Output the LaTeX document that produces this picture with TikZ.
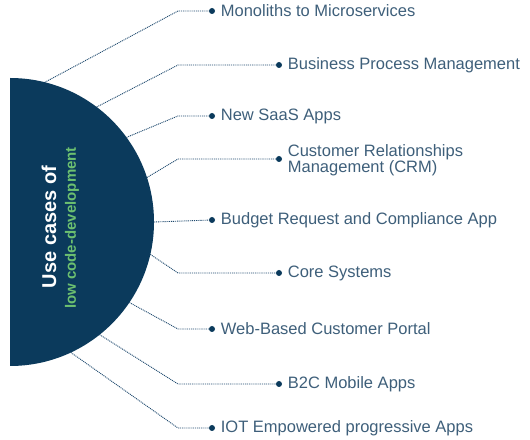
\documentclass[tikz,border=0pt]{standalone}
\usepackage{fontspec}
\setmainfont{Liberation Sans}
\usepackage{tikz}
\usetikzlibrary{positioning, calc}
\definecolor{UC_Navy}{HTML}{0B3A5C}
\definecolor{UC_Slate}{HTML}{3E5F7A}
\definecolor{UC_Green}{HTML}{6CC070}
\definecolor{UC_Line}{HTML}{1F4A6E}

\begin{document}
\begin{tikzpicture}[
  x=1pt, y=1pt,
  every node/.style={font=\fontsize{16.5}{17.5}\selectfont, text=UC_Slate},
  item/.style={anchor=west, inner sep=0pt, align=left},
  dot/.style={circle, fill=UC_Navy, inner sep=0pt, minimum size=6pt},
  link/.style={UC_Line, line width=0.9pt, dash pattern=on 1pt off 0.9pt}
]
  \useasboundingbox (0,0) rectangle (530,439);

  % Half disc
  \coordinate (c) at (10,217);
  \fill[UC_Navy] (10,361) arc[start angle=90, end angle=-90, radius=144] -- cycle;
  \node[rotate=90, text=white, font=\bfseries\fontsize{20}{22}\selectfont]
    (title) at (49,212) {Use cases of};
  \node[rotate=90, text=UC_Green, font=\bfseries\fontsize{15}{17}\selectfont]
    (subtitle) at (72,211) {low code-development};

  % Start points on the rim
  \coordinate (s1) at ($(c)+(76:144)$);
  \coordinate (s2) at ($(c)+(53:144)$);
  \coordinate (s3) at ($(c)+(36:144)$);
  \coordinate (s4) at ($(c)+(18:144)$);
  \coordinate (s5) at ($(c)+(0:144)$);
  \coordinate (s6) at ($(c)+(-13:144)$);
  \coordinate (s7) at ($(c)+(-34:144)$);
  \coordinate (s8) at ($(c)+(-51.5:144)$);
  \coordinate (s9) at ($(c)+(-65:144)$);

  % Bend points
  \coordinate (b1) at (178,428);
  \coordinate (b2) at (178,374);
  \coordinate (b3) at (178,323);
  \coordinate (b4) at (178,280);
  \coordinate (b6) at (178,166);
  \coordinate (b7) at (178,110);
  \coordinate (b8) at (178,55);
  \coordinate (b9) at (178,11);

  % Dots
  \node[dot] (d1) at (212,428) {};
  \node[dot] (d2) at (279,374) {};
  \node[dot] (d3) at (212,323) {};
  \node[dot] (d4) at (279,280) {};
  \node[dot] (d5) at (212,219) {};
  \node[dot] (d6) at (279,166) {};
  \node[dot] (d7) at (212,110) {};
  \node[dot] (d8) at (279,55) {};
  \node[dot] (d9) at (212,11) {};

  % Labels
  \node[item, right=5.5pt of d1] (l1) {Monoliths to Microservices};
  \node[item, right=5.5pt of d2] (l2) {Business Process Management};
  \node[item, right=5.5pt of d3] (l3) {New SaaS Apps};
  \node[item, right=5.5pt of d4, yshift=-1pt] (l4) {Customer Relationships\\[-1pt]Management (CRM)};
  \node[item, right=5.5pt of d5] (l5) {Budget Request and Compliance App};
  \node[item, right=5.5pt of d6] (l6) {Core Systems};
  \node[item, right=5.5pt of d7] (l7) {Web-Based Customer Portal};
  \node[item, right=5.5pt of d8] (l8) {B2C Mobile Apps};
  \node[item, right=5.5pt of d9] (l9) {IOT Empowered progressive Apps};

  % Connectors
  \draw[link] (s1) -- (b1) -- (d1);
  \draw[link] (s2) -- (b2) -- (d2);
  \draw[link] (s3) -- (b3) -- (d3);
  \draw[link] (s4) -- (b4) -- (d4);
  \draw[link] (s5) -- (d5);
  \draw[link] (s6) -- (b6) -- (d6);
  \draw[link] (s7) -- (b7) -- (d7);
  \draw[link] (s8) -- (b8) -- (d8);
  \draw[link] (s9) -- (b9) -- (d9);
\end{tikzpicture}
\end{document}
